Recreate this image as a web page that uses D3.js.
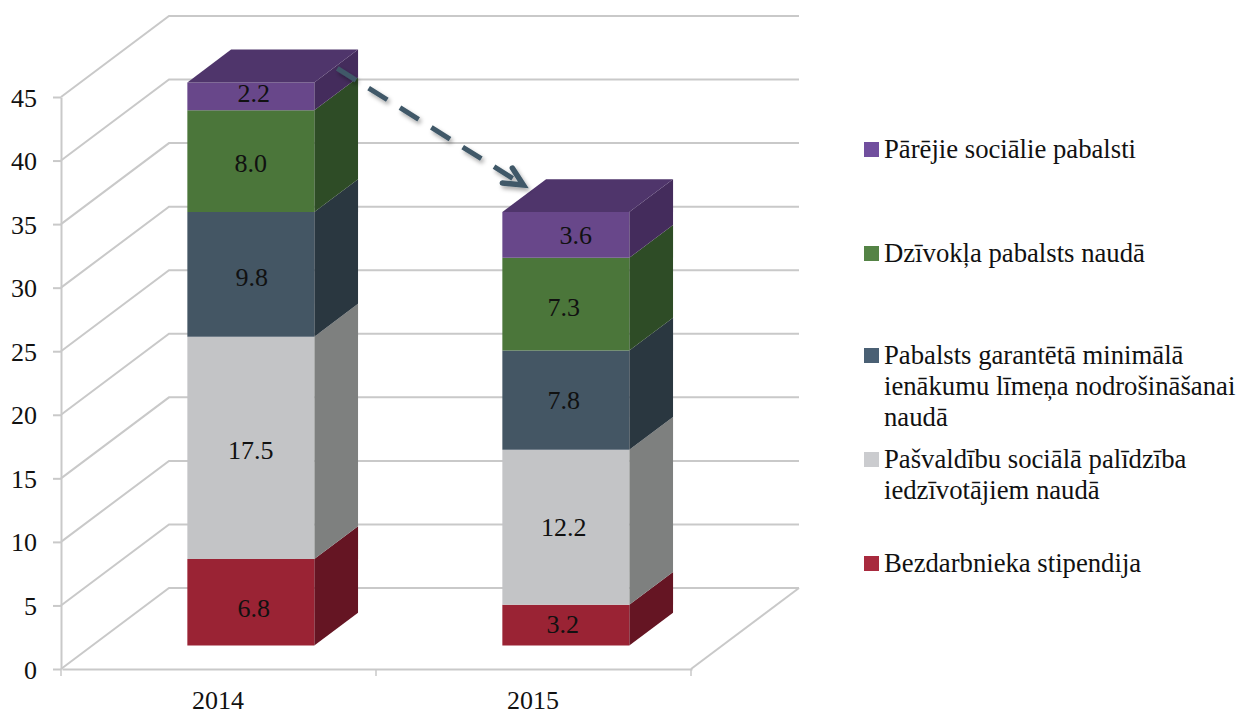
<!doctype html>
<html>
<head>
<meta charset="utf-8">
<style>
    html, body { margin: 0; padding: 0; background: #fff; overflow: hidden; }
    svg { display: block; }
    text { font-family: "Liberation Serif", serif; fill: #111; }
    .grid { stroke: #c9c9c9; stroke-width: 2; fill: none; }
    .axis path, .axis line { stroke: #c9c9c9; stroke-width: 2; }
    .axis text { font-family: "Liberation Serif", serif; font-size: 26px; fill: #111; }
    .val { font-size: 26px; text-anchor: middle; }
    .leg { font-size: 26.7px; }
</style>
<script src="https://d3js.org/d3.v7.min.js"></script>
</head>
<body>
<svg width="1237" height="711"></svg>
<script>
var years = ["2014", "2015"];
var yTicks = [0, 5, 10, 15, 20, 25, 30, 35, 40, 45];

// bottom to top of the stack
var series = ["bezdarbs", "pasvaldibu", "gmi", "dzivoklis", "parejie"];
var bezdarbs = [6.8, 3.2];
var pasvaldibu = [17.5, 12.2];
var gmi = [9.8, 7.8];
var dzivoklis = [8.0, 7.3];
var parejie = [2.2, 3.6];
var seriesValues = [bezdarbs, pasvaldibu, gmi, dzivoklis, parejie];

var frontColors = ["#9a2334", "#c3c4c6", "#445664", "#4b763a", "#68478a"];
var sideColors = ["#651523", "#7e807f", "#2a3740", "#2e4c26", "#442c5c"];
var legendColors = ["#a82a3e", "#cbcccf", "#4a6074", "#548345", "#714f9e"];
var topColor = "#4f356b";

var legendLabels = [
    ["Bezdarbnieka stipendija"],
    ["Pašvaldību sociālā palīdzība", "iedzīvotājiem naudā"],
    ["Pabalsts garantētā minimālā", "ienākumu līmeņa nodrošināšanai", "naudā"],
    ["Dzīvokļa pabalsts naudā"],
    ["Pārējie sociālie pabalsti"]
];

var svg = d3.select("svg");

// oblique projection: depth 0 is the front of the floor, 1 the back
var left = 61, right = 691, bottom = 669, top45 = 97;
var depthX = d3.scaleLinear().domain([0, 1]).range([0, 108]);
var depthY = d3.scaleLinear().domain([0, 1]).range([0, -81]);
var barFront = 0.29, barBack = 0.695;

var y = d3.scaleLinear().domain([0, 45]).range([bottom, top45]);
var x = d3.scaleBand().domain(years).range([left + 1, right + 1])
    .paddingInner(0.597).paddingOuter(0.2985);

function px(xv, d) { return xv + depthX(d); }
function py(val, d) { return y(val) + depthY(d); }
function pt(xv, val, d) { return [px(xv, d), py(val, d)]; }
var poly = d3.line();

// walls and floor
var grid = svg.append("g");
yTicks.forEach(function(t) {
    grid.append("path").attr("class", "grid")
        .attr("d", poly([pt(left, t, 0), pt(left, t, 1), pt(right, t, 1)]));
});
grid.append("path").attr("class", "grid")
    .attr("d", poly([pt(right, 0, 0), pt(right, 0, 1)]));

// axes
var yAxis = svg.append("g").attr("class", "axis")
    .attr("transform", "translate(" + left + ",0)")
    .call(d3.axisLeft(y).tickValues(yTicks).tickSize(8).tickSizeOuter(0).tickPadding(16));
yAxis.selectAll("text").attr("dy", "0.35em");

var xAxis = svg.append("g").attr("class", "axis")
    .attr("transform", "translate(0," + bottom + ")")
    .call(d3.axisBottom(x).tickSize(0).tickPadding(0));
xAxis.selectAll("text").attr("y", 31).attr("dy", "0.35em").attr("dx", -1.5);
var xTickPos = [left, left + x.step(), right];
xAxis.selectAll(".sep").data(xTickPos).enter().append("line")
    .attr("x1", function(d) { return d; }).attr("x2", function(d) { return d; })
    .attr("y1", 0).attr("y2", 7)
    .style("stroke-width", 1.5);

// small corrections so the labels sit where the original has them
var labelNudge = [
    [[3, 6], [-3, -1]],
    [[0, 2], [-2, 0]],
    [[1, 3], [-2, 0]],
    [[0, 2], [-2, 3]],
    [[3, -3], [10, 0]]
];

// bars
var bars = svg.append("g");
years.forEach(function(yr, i) {
    var x0 = x(yr), x1 = x0 + x.bandwidth(), base = 0;
    seriesValues.forEach(function(vals, s) {
        var v = vals[i], top = base + v;
        bars.append("path").attr("fill", sideColors[s])
            .attr("d", poly([pt(x1, base, barFront), pt(x1, base, barBack), pt(x1, top, barBack), pt(x1, top, barFront)]) + "Z");
        bars.append("path").attr("fill", frontColors[s])
            .attr("d", poly([pt(x0, base, barFront), pt(x1, base, barFront), pt(x1, top, barFront), pt(x0, top, barFront)]) + "Z");
        base = top;
    });
    bars.append("path").attr("fill", topColor)
        .attr("d", poly([pt(x0, base, barFront), pt(x1, base, barFront), pt(x1, base, barBack), pt(x0, base, barBack)]) + "Z");

    base = 0;
    seriesValues.forEach(function(vals, s) {
        var v = vals[i];
        bars.append("text").attr("class", "val")
            .attr("x", px((x0 + x1) / 2, barFront) + labelNudge[s][i][0])
            .attr("y", py(base + v / 2, barFront) + 9 + labelNudge[s][i][1])
            .text(v.toFixed(1));
        base += v;
    });
});

// arrow from the top of the 2014 bar to the top of the 2015 bar
var defs = svg.append("defs");
defs.append("filter").attr("id", "shadow")
    .attr("x", "-20%").attr("y", "-20%").attr("width", "140%").attr("height", "140%")
    .append("feDropShadow")
    .attr("dx", 2).attr("dy", 3).attr("stdDeviation", 2)
    .attr("flood-color", "#000").attr("flood-opacity", 0.35);

function total(i) { return d3.sum(seriesValues, function(a) { return a[i]; }); }
var aStart = pt(x(years[0]) + x.bandwidth(), total(0), barFront);
aStart = [aStart[0] + 23, aStart[1] - 14];
var aEnd = pt(x(years[1]), total(1), barFront);
aEnd = [aEnd[0] + 21, aEnd[1] - 27];

var arrow = svg.append("g").attr("filter", "url(#shadow)")
    .attr("fill", "none").attr("stroke", "#3f5868");
arrow.append("path").attr("d", poly([aStart, [aEnd[0] - 4, aEnd[1] - 2.5]]))
    .attr("stroke-width", 5).attr("stroke-dasharray", "22 15");
arrow.append("path")
    .attr("d", poly([[aEnd[0] - 11, aEnd[1] - 17], aEnd, [aEnd[0] - 21, aEnd[1] - 2]]))
    .attr("stroke-width", 5.5).attr("stroke-linecap", "round").attr("stroke-linejoin", "miter");

// legend, listed from the top down
var legendY = [572, 468, 364, 262, 158];
var lineH = 31;
var legend = svg.append("g");
legendLabels.forEach(function(lines, s) {
    legend.append("rect")
        .attr("x", 864).attr("y", legendY[s] - 16)
        .attr("width", 15).attr("height", 15)
        .attr("fill", legendColors[s]);
    lines.forEach(function(l, j) {
        legend.append("text").attr("class", "leg")
            .attr("x", 884).attr("y", legendY[s] + j * lineH)
            .text(l);
    });
});
</script>
</body>
</html>
